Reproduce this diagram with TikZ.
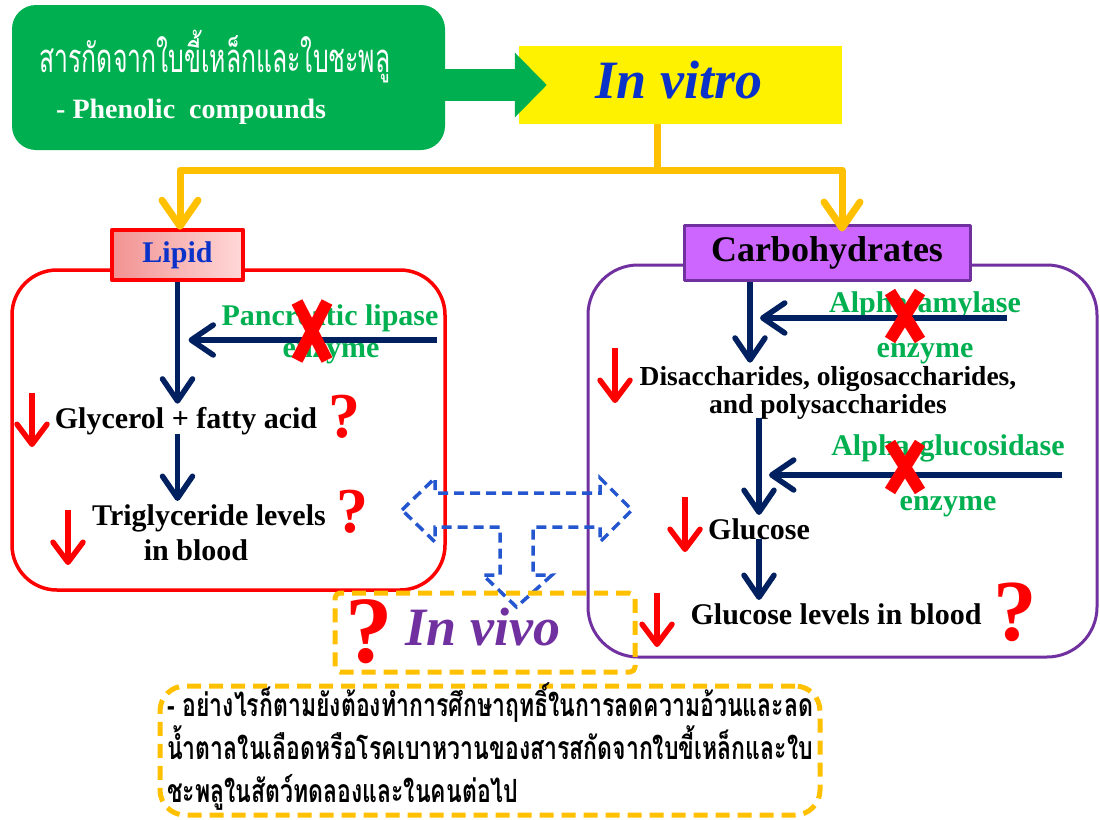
\documentclass[tikz,border=0pt]{standalone}
\usepackage{fontspec}
\setmainfont{Liberation Serif}
\newfontfamily\thaihead[Script=Thai,FakeStretch=0.62]{Loma}
\newfontfamily\thainote[Script=Thai,FakeStretch=0.72]{Loma}
\usepackage{xcolor}
\usetikzlibrary{arrows.meta}
\usetikzlibrary{calc}
\usetikzlibrary{positioning}

\definecolor{leafgreen}{HTML}{00B050}
\definecolor{vitroblue}{HTML}{0A32C8}
\definecolor{feedorange}{HTML}{FFC000}
\definecolor{navyflow}{HTML}{002060}
\definecolor{violetline}{HTML}{7030A0}
\definecolor{orchidfill}{HTML}{CC66FF}
\definecolor{dashblue}{HTML}{2456CF}
\definecolor{pinkA}{HTML}{F29292}
\definecolor{pinkB}{HTML}{FFD8D8}

\begin{document}
\begin{tikzpicture}[x=1pt,y=-1pt,line join=round]
  \tikzstyle{srcbox}=[fill=leafgreen, rounded corners=24pt, minimum width=433pt, minimum height=145pt, inner sep=0pt]
  \tikzstyle{vitrobox}=[fill=yellow, minimum width=323pt, minimum height=78pt, inner sep=0pt]
  \tikzstyle{word}=[font=\bfseries\fontsize{30}{34}\selectfont, inner sep=1pt]
  \tikzstyle{smallword}=[font=\bfseries\fontsize{27.5}{28}\selectfont, inner sep=1pt]
  \tikzstyle{enz}=[word, text=leafgreen]
  \tikzstyle{ask}=[text=red, font=\bfseries\fontsize{64}{64}\selectfont, inner sep=0pt]
  \tikzstyle{flow}=[draw=navyflow, line width=5.5pt, -{Straight Barb[round,length=22pt,width=30pt]}]
  \tikzstyle{feed}=[draw=feedorange, line width=7pt, -{Straight Barb[round,length=26pt,width=36pt]}]
  \tikzstyle{less}=[draw=red, line width=5.5pt, -{Straight Barb[round,length=20pt,width=30pt]}]
  \tikzstyle{nocross}=[draw=red, line width=12pt]
  \tikzstyle{dashbox}=[draw=feedorange, line width=5pt, dash pattern=on 14pt off 8pt, inner sep=0pt]
  \useasboundingbox (0,0) rectangle (1100,819);

  % frames
  \draw[red, line width=3.5pt, rounded corners=45pt] (12,270) rectangle (445,590);
  \draw[violetline, line width=3pt, rounded corners=50pt] (588,265) rectangle (1097,657);

  % source and in vitro
  \node[srcbox] (src) at (228.5,77.5) {};
  \node[anchor=base, text=white, font=\thaihead\fontsize{40}{40}\selectfont, inner sep=0pt] (srcthai) at (215,72) {สารกัดจากใบขี้เหล็กและใบชะพลู};
  \node[anchor=base west, text=white, font=\bfseries\fontsize{28}{30}\selectfont, inner sep=0pt] (srcphen) at (56,118) {- Phenolic~~compounds};
  \node[vitrobox] (vitro) at (680.5,85) {};
  \node[anchor=base, text=vitroblue, font=\bfseries\itshape\fontsize{54}{54}\selectfont, inner sep=0pt] (vitrotxt) at (679,98) {In vitro};
  \draw[leafgreen, line width=32pt, -{Triangle[length=32pt,width=63pt]}] (src.east |- vitro.west) -- ([xshift=28pt]vitro.west);

  % category boxes
  \node[draw=red, line width=4.5pt, left color=pinkA, right color=pinkB, minimum width=131pt, minimum height=50pt, inner sep=0pt, text=vitroblue, font=\bfseries\fontsize{30}{30}\selectfont] (lipid) at (177.5,255) {Lipid};
  \node[draw=violetline, line width=3pt, fill=orchidfill, minimum width=286pt, minimum height=55pt, inner sep=0pt, font=\bfseries\fontsize{36}{36}\selectfont] (carbo) at (827,252.5) {Carbohydrates};

  \coordinate (split) at (657,170);
  \draw[feedorange, line width=7pt] (vitro.south -| split) -- (split);
  \draw[feed, shorten >=-2pt] (split) -| ([xshift=2.5pt]lipid.north);
  \draw[feed, shorten >=-8pt] (split) -| ([xshift=15pt]carbo.north);

  % lipid side
  \node[enz, anchor=base] (panc) at (330,325) {Pancreatic lipase};
  \node[enz, anchor=base] (panc2) at (331,357) {enzyme};
  \node[word, anchor=base] (glyc) at (186,428) {Glycerol + fatty acid};
  \node[word, anchor=base] (trig) at (209,525) {Triglyceride levels};
  \node[word, anchor=base] (trigb) at (196,560) {in blood};
  \node[ask, anchor=base] (ask1) at (344,437) {?};
  \node[ask, anchor=base] (ask2) at (352,532) {?};

  \coordinate (pancin) at (437,340);
  \draw[flow, shorten >=2pt] (lipid.south) -- (lipid.south |- glyc.north);
  \draw[flow, shorten <=-2pt, shorten >=2pt] (lipid.south |- glyc.south) -- (lipid.south |- trig.north);
  \draw[flow, shorten >=11pt] (pancin) -- (pancin -| lipid.south);
  \draw[nocross] (297,302) -- (327,360) (327,302) -- (297,360);
  \draw[less] (32,393) -- (32,447);
  \draw[less] (68,510) -- (68,565);

  % carbohydrate side
  \node[enz, anchor=base] (amy) at (925,312) {Alpha-amylase};
  \node[enz, anchor=base] (amy2) at (925,357) {enzyme};
  \node[smallword, anchor=base, align=center] (disac) at (828,413) {Disaccharides, oligosaccharides,\\and polysaccharides};
  \node[enz, anchor=base] (gls) at (948,455) {Alpha-glucosidase};
  \node[enz, anchor=base] (gls2) at (948,510) {enzyme};
  \node[word, anchor=base] (gluc) at (759,539) {Glucose};
  \node[word, anchor=base] (glevel) at (836,624) {Glucose levels in blood};
  \node[ask, anchor=base, font=\bfseries\fontsize{87}{87}\selectfont] (ask3) at (1015,640) {?};

  \coordinate (cstem) at ([xshift=-77pt]carbo.south);
  \coordinate (amyin) at (1007,318);
  \coordinate (glsin) at (1062,475);
  \draw[flow, shorten >=2pt] (cstem) -- (cstem |- disac.north);
  \draw[flow, shorten >=10pt] (amyin) -- (amyin -| cstem);
  \draw[flow, shorten <=-2pt, shorten >=2pt] (disac.south -| gluc.north) -- (gluc.north);
  \draw[flow, shorten >=10pt] (glsin) -- (glsin -| gluc.north);
  \draw[flow, shorten <=-2pt, shorten >=2pt] (gluc.south) -- (gluc.south |- glevel.north);
  \draw[nocross] (890,292) -- (920,340) (920,292) -- (890,340);
  \draw[nocross] (890,443) -- (920,491) (920,443) -- (890,491);
  \draw[less] (615,348) -- (615,403);
  \draw[less] (685,497) -- (685,552);
  \draw[less] (657,593) -- (657,647);

  % in vivo
  \draw[dashblue, line width=3.5pt, dash pattern=on 10pt off 6pt, line join=miter]
    (402,510) -- (435,478) -- (435,493) -- (600,493) -- (600,478) -- (632,510)
    -- (600,542) -- (600,527) -- (533,527) -- (533,575) -- (552,575) -- (516.5,607)
    -- (483,575) -- (500,575) -- (500,527) -- (435,527) -- (435,542) -- cycle;
  \node[dashbox, rounded corners=5pt, minimum width=300pt, minimum height=79pt] (vivobox) at (485,632.5) {};
  \node[ask, anchor=base, font=\bfseries\fontsize{95}{95}\selectfont] (ask4) at (369,662) {?};
  \node[anchor=base, text=violetline, font=\bfseries\itshape\fontsize{54}{54}\selectfont, inner sep=0pt] (vivo) at (483,645) {In vivo};

  \node[dashbox, rounded corners=25pt, minimum width=660pt, minimum height=129pt] (notebox) at (490,750.5) {};
  \node[anchor=base west, align=left, inner sep=0pt, font=\thainote\bfseries\fontsize{32}{43}\selectfont] (note) at (167,802)
    {- อย่างไรก็ตามยังต้องทำการศึกษาฤทธิ์ในการลดความอ้วนและลด\\น้ำตาลในเลือดหรือโรคเบาหวานของสารสกัดจากใบขี้เหล็กและใบ\\ชะพลูในสัตว์ทดลองและในคนต่อไป};
\end{tikzpicture}
\end{document}
